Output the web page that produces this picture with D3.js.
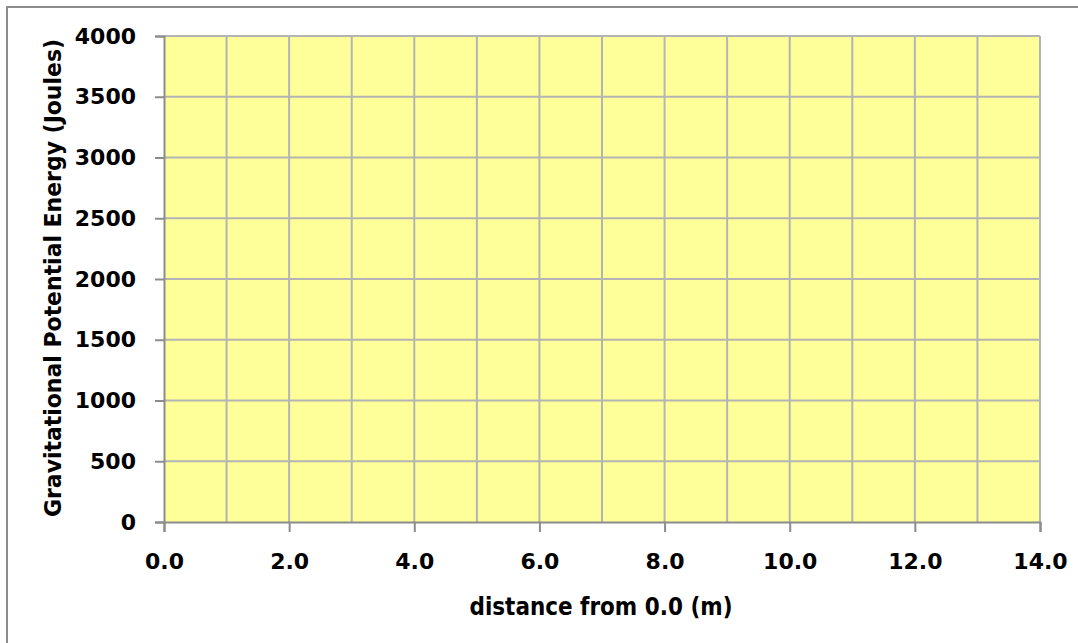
<!DOCTYPE html>
<html>
<head>
<meta charset="utf-8">
<script src="https://cdn.jsdelivr.net/npm/d3@7"></script>
<style>
  html, body { margin: 0; padding: 0; background: #fff; }
  svg { display: block; }
  text { font-family: "DejaVu Sans", sans-serif; font-weight: bold; fill: #000; }
</style>
</head>
<body>
<svg id="chart" width="1078" height="643"></svg>
<script>
// ---- data ----
const xDomain = [0, 14];
const yDomain = [0, 4000];
const xMajorTicks = [0, 2, 4, 6, 8, 10, 12, 14];
const xGridLines = [1, 2, 3, 4, 5, 6, 7, 8, 9, 10, 11, 12, 13, 14];
const yTicks = [0, 500, 1000, 1500, 2000, 2500, 3000, 3500, 4000];
const xTitle = "distance from 0.0 (m)";
const yTitle = "Gravitational Potential Energy (Joules)";

// ---- layout ----
const svg = d3.select("#chart");
const plot = { left: 164, top: 36, right: 1040, bottom: 522 };

svg.append("rect")
  .attr("x", 7).attr("y", 7).attr("width", 1200).attr("height", 800)
  .attr("fill", "#fff").attr("stroke", "#8c8c8c").attr("stroke-width", 2);

const x = d3.scaleLinear().domain(xDomain).range([plot.left, plot.right]);
const y = d3.scaleLinear().domain(yDomain).range([plot.bottom, plot.top]);

// plot area
svg.append("rect")
  .attr("x", plot.left).attr("y", plot.top)
  .attr("width", plot.right - plot.left).attr("height", plot.bottom - plot.top)
  .attr("fill", "#ffff99");

// gridlines
const grid = svg.append("g").attr("stroke", "#b4b4b4").attr("stroke-width", 2);
grid.selectAll("line.v").data(xGridLines).join("line").attr("class", "v")
  .attr("x1", d => x(d)).attr("x2", d => x(d))
  .attr("y1", plot.top).attr("y2", plot.bottom);
grid.selectAll("line.h").data(yTicks.filter(d => d > 0)).join("line").attr("class", "h")
  .attr("x1", plot.left).attr("x2", plot.right)
  .attr("y1", d => y(d)).attr("y2", d => y(d));

// x axis
const xAxis = svg.append("g")
  .attr("transform", `translate(0,${plot.bottom})`)
  .call(d3.axisBottom(x).tickValues(xMajorTicks).tickFormat(d3.format(".1f")).tickSize(10).tickPadding(21));
xAxis.select(".domain").attr("stroke", "#8c8c8c").attr("stroke-width", 2);
xAxis.selectAll(".tick line").attr("stroke", "#8c8c8c").attr("stroke-width", 2);
xAxis.selectAll(".tick text")
  .attr("font-size", 22).attr("font-family", "DejaVu Sans").attr("font-weight", "bold")
  .attr("fill", "#000");

// y axis
const yAxis = svg.append("g")
  .attr("transform", `translate(${plot.left},0)`)
  .call(d3.axisLeft(y).tickValues(yTicks).tickFormat(d3.format("d")).tickSize(9).tickPadding(19));
yAxis.select(".domain").attr("stroke", "#8c8c8c").attr("stroke-width", 2);
yAxis.selectAll(".tick line").attr("stroke", "#8c8c8c").attr("stroke-width", 2);
yAxis.selectAll(".tick text")
  .attr("font-size", 22).attr("font-family", "DejaVu Sans").attr("font-weight", "bold")
  .attr("fill", "#000");

// axis titles
svg.append("text")
  .attr("x", 601).attr("y", 615)
  .attr("text-anchor", "middle")
  .attr("font-family", "Liberation Sans").attr("font-size", 24)
  .attr("textLength", 263).attr("lengthAdjust", "spacingAndGlyphs")
  .text(xTitle);

svg.append("text")
  .attr("transform", "translate(61,278) rotate(-90)")
  .attr("text-anchor", "middle")
  .attr("font-family", "Liberation Sans").attr("font-size", 23)
  .attr("textLength", 478).attr("lengthAdjust", "spacingAndGlyphs")
  .text(yTitle);
</script>
</body>
</html>
